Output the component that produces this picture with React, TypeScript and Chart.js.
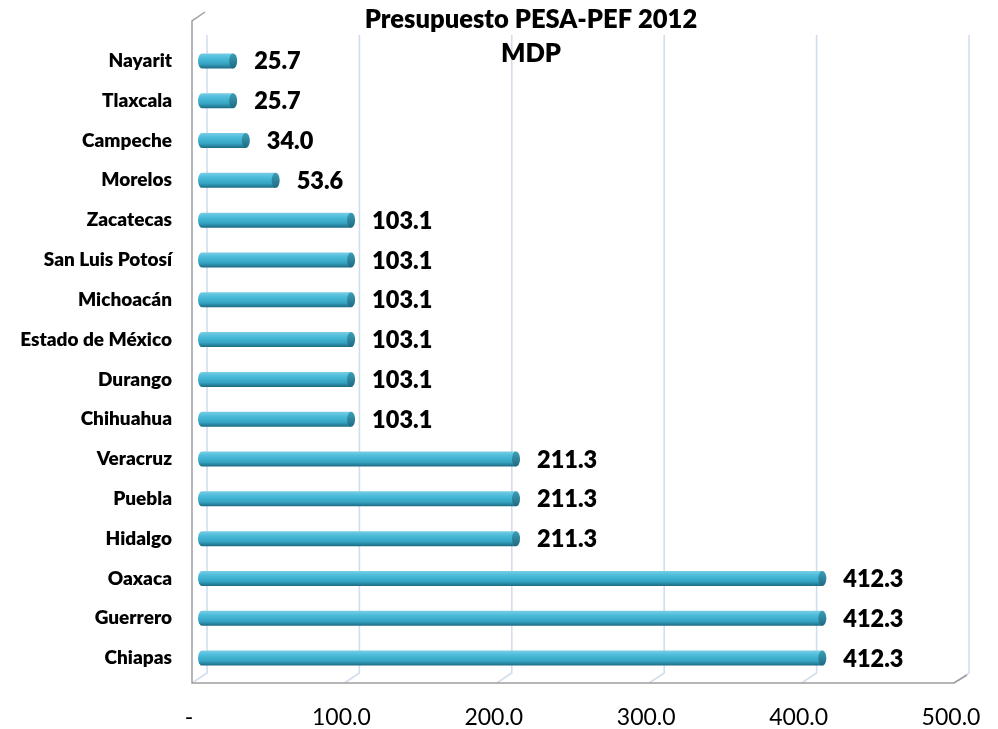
import React, { useEffect, useRef } from "react";
import { Chart, registerables } from "chart.js";

Chart.register(...registerables);

const categories = [
  "Nayarit",
  "Tlaxcala",
  "Campeche",
  "Morelos",
  "Zacatecas",
  "San Luis Potosí",
  "Michoacán",
  "Estado de México",
  "Durango",
  "Chihuahua",
  "Veracruz",
  "Puebla",
  "Hidalgo",
  "Oaxaca",
  "Guerrero",
  "Chiapas",
];
const values = [25.7, 25.7, 34.0, 53.6, 103.1, 103.1, 103.1, 103.1, 103.1, 103.1, 211.3, 211.3, 211.3, 412.3, 412.3, 412.3];
const tickValues = [0, 100, 200, 300, 400, 500];
const titleLines = ["Presupuesto PESA-PEF 2012", "MDP"];

const FONT = "Lato, 'Open Sans', sans-serif";
const BACK = 9;
const FRONT = -6;

const decorPlugin = {
  id: "decor3d",
  beforeDatasetsDraw(chart: any) {
    const { ctx, scales } = chart;
    const xs = scales.x;
    const backTop = 35;
    const backBottom = 673;
    const frontY = 683;
    ctx.save();
    ctx.strokeStyle = "#d3deed";
    ctx.lineWidth = 1.6;
    tickValues.forEach((v) => {
      const px = xs.getPixelForValue(v);
      ctx.beginPath();
      ctx.moveTo(px + BACK, backTop);
      ctx.lineTo(px + BACK, backBottom);
      ctx.lineTo(px + FRONT, frontY);
      ctx.stroke();
    });
    const x0 = xs.getPixelForValue(0);
    const x5 = xs.getPixelForValue(500);
    ctx.strokeStyle = "#9e9e9e";
    ctx.lineWidth = 1.5;
    ctx.beginPath();
    ctx.moveTo(x0 + BACK - 2, 12);
    ctx.lineTo(x0 + FRONT, 21);
    ctx.lineTo(x0 + FRONT, frontY);
    ctx.lineTo(x5 + FRONT, frontY);
    ctx.lineTo(x5 + BACK - 2, backBottom + 2);
    ctx.stroke();
    ctx.restore();
  },
  afterDatasetsDraw(chart: any) {
    const { ctx } = chart;
    const meta = chart.getDatasetMeta(0);
    ctx.save();
    meta.data.forEach((bar: any, i: number) => {
      const { x, y, base, height } = bar.getProps(["x", "y", "base", "height"], true);
      const h = height;
      const top = y - h / 2;
      const rx = 4;
      const g = ctx.createLinearGradient(0, top, 0, top + h);
      g.addColorStop(0, "#78cde5");
      g.addColorStop(0.3, "#4bbcda");
      g.addColorStop(0.7, "#35a4c3");
      g.addColorStop(1, "#1d6a82");
      ctx.fillStyle = g;
      ctx.beginPath();
      ctx.moveTo(base + rx, top);
      ctx.lineTo(x - rx, top);
      ctx.lineTo(x - rx, top + h);
      ctx.lineTo(base + rx, top + h);
      ctx.ellipse(base + rx, y, rx, h / 2, 0, Math.PI / 2, (3 * Math.PI) / 2);
      ctx.closePath();
      ctx.fill();
      const cg = ctx.createLinearGradient(0, top, 0, top + h);
      cg.addColorStop(0, "#3d9fba");
      cg.addColorStop(1, "#1f6a80");
      ctx.fillStyle = cg;
      ctx.beginPath();
      ctx.ellipse(x - rx, y, rx, h / 2, 0, 0, Math.PI * 2);
      ctx.fill();
      ctx.fillStyle = "#000";
      ctx.font = `800 23.5px ${FONT}`;
      ctx.textAlign = "left";
      ctx.textBaseline = "middle";
      ctx.fillText(values[i].toFixed(1), x + 17, y + 1);
    });
    ctx.fillStyle = "#000";
    ctx.font = `800 25.5px ${FONT}`;
    ctx.textAlign = "center";
    ctx.textBaseline = "middle";
    ctx.fillText(titleLines[0], 531, 20);
    ctx.fillText(titleLines[1], 531, 54);
    ctx.restore();
  },
};

export default function App() {
  const ref = useRef<HTMLCanvasElement>(null);
  useEffect(() => {
    document.body.style.margin = "0";
    const chart = new Chart(ref.current!, {
      type: "bar",
      data: {
        labels: categories,
        datasets: [
          {
            data: values,
            backgroundColor: "rgba(0,0,0,0)",
            barThickness: 15,
          },
        ],
      },
      options: {
        indexAxis: "y",
        responsive: false,
        animation: false,
        layout: { padding: { top: 41, right: 38, left: 0, bottom: 0 } },
        plugins: { legend: { display: false }, tooltip: { enabled: false }, title: { display: false } },
        scales: {
          x: {
            min: 0,
            max: 500,
            afterFit: (s: any) => {
              s.height = 51;
              s.paddingRight = 0;
              s.paddingLeft = 0;
            },
            afterBuildTicks: (s: any) => {
              s.ticks = tickValues.map((v) => ({ value: v }));
            },
            grid: { display: false, drawTicks: false },
            border: { display: false },
            ticks: {
              labelOffset: -9,
              padding: 26,
              maxRotation: 0,
              color: "#000",
              font: { family: FONT, size: 23 },
              callback: (v: any) => (Number(v) === 0 ? "-" : Number(v).toFixed(1)),
            },
          },
          y: {
            afterFit: (s: any) => {
              s.width = 198;
              s.paddingTop = 0;
              s.paddingBottom = 0;
            },
            grid: { display: false, drawTicks: false },
            border: { display: false },
            ticks: {
              padding: 26,
              color: "#000",
              font: { family: FONT, size: 19, weight: 800 },
            },
          },
        },
      },
      plugins: [decorPlugin],
    });
    return () => chart.destroy();
  }, []);
  return (
    <div style={{ position: "absolute", left: 0, top: 0, width: 998, height: 729, background: "#fff" }}>
      <canvas ref={ref} width={998} height={729} style={{ width: 998, height: 729 }} />
    </div>
  );
}
